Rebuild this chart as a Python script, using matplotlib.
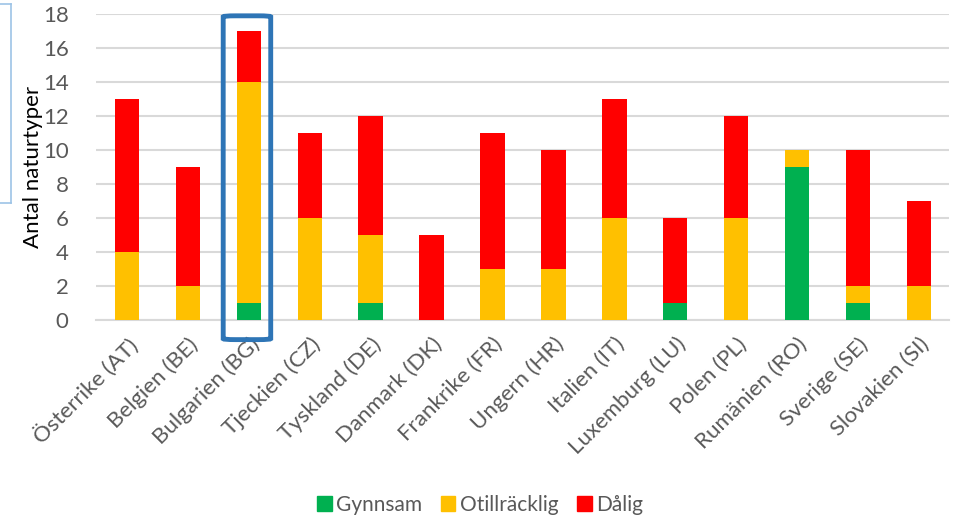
import matplotlib.pyplot as plt
from matplotlib.patches import FancyBboxPatch, Patch
from matplotlib.lines import Line2D
import numpy as np

plt.rcParams['font.family'] = ['Lato', 'DejaVu Sans']

# data
lander = ['Österrike (AT)', 'Belgien (BE)', 'Bulgarien (BG)', 'Tjeckien (CZ)',
          'Tyskland (DE)', 'Danmark (DK)', 'Frankrike (FR)', 'Ungern (HR)',
          'Italien (IT)', 'Luxemburg (LU)', 'Polen (PL)', 'Rumänien (RO)',
          'Sverige (SE)', 'Slovakien (SI)']
gynnsam = [0, 0, 1, 0, 1, 0, 0, 0, 0, 1, 0, 9, 1, 0]
otillracklig = [4, 2, 13, 6, 4, 0, 3, 3, 6, 0, 6, 1, 1, 2]
dalig = [9, 7, 3, 5, 7, 5, 8, 7, 7, 5, 6, 0, 8, 5]

fig = plt.figure(figsize=(9.6, 5.23), dpi=100)
ax = fig.add_axes([0.1005, 0.388, 0.8885, 0.585])

x = np.arange(len(lander))
g = np.array(gynnsam)
o = np.array(otillracklig)
d = np.array(dalig)
w = 0.4
ax.bar(x, g, w, color='#00B050', zorder=3)
ax.bar(x, o, w, bottom=g, color='#FFC000', zorder=3)
ax.bar(x, d, w, bottom=g + o, color='#FF0000', zorder=3)

ax.set_xlim(-0.5, len(lander) - 0.5)
ax.set_ylim(0, 18)
ax.set_yticks(range(0, 19, 2))
ax.yaxis.grid(True, color='#D9D9D9', linewidth=1.5, zorder=0)
for s in ['top', 'right', 'left']:
    ax.spines[s].set_visible(False)
ax.spines['bottom'].set_color('#D9D9D9')
ax.spines['bottom'].set_linewidth(1.5)
ax.tick_params(length=0, colors='#595959', labelsize=16)
ax.tick_params(axis='y', pad=20)
ax.tick_params(axis='x', pad=10)
ax.set_xticks(x)
ax.set_xticklabels(lander, rotation=45, ha='right', rotation_mode='anchor')
ax.set_ylabel('Antal naturtyper', fontsize=16, color='black', labelpad=0)

# markering runt BG
box = FancyBboxPatch((1.58, -1.15), 0.78, 19.05, boxstyle='round,pad=0,rounding_size=0.2',
                     mutation_aspect=17 / 60.9, fill=False, edgecolor='#2E75B6',
                     linewidth=3.5, clip_on=False, zorder=5)
ax.add_patch(box)

# avklippt ruta till vänster
fig.add_artist(Line2D([11 / 960, 11 / 960], [1 - 4 / 523, 1 - 203 / 523],
                      color='#9DC3E6', linewidth=1.2))
fig.add_artist(Line2D([0, 11 / 960], [1 - 203 / 523, 1 - 203 / 523],
                      color='#9DC3E6', linewidth=1.2))
fig.add_artist(Line2D([0, 11 / 960], [1 - 4 / 523, 1 - 4 / 523],
                      color='#9DC3E6', linewidth=1.2))

handles = [Patch(color='#00B050'), Patch(color='#FFC000'), Patch(color='#FF0000')]
fig.legend(handles, ['Gynnsam', 'Otillräcklig', 'Dålig'], loc='center',
           bbox_to_anchor=(0.5, 1 - 505 / 523), ncol=3, frameon=False,
           fontsize=15, handlelength=0.7, handleheight=0.7, handletextpad=0.2,
           columnspacing=0.9, labelcolor='#595959')

plt.savefig('out.png', dpi=100)
